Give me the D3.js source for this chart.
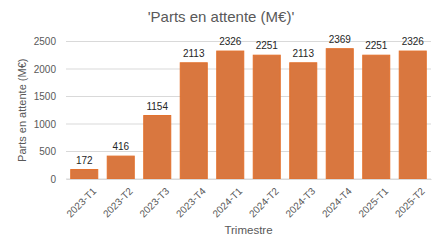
<!DOCTYPE html>
<html>
<head>
<meta charset="utf-8">
<script src="https://cdn.jsdelivr.net/npm/d3@7"></script>
<style>
  body { margin: 0; background: #fff; }
  text { font-family: "Liberation Sans", "DejaVu Sans", sans-serif; }
</style>
</head>
<body>
<div id="chart"></div>
<script>
var trimestres = ["2023-T1", "2023-T2", "2023-T3", "2023-T4", "2024-T1", "2024-T2", "2024-T3", "2024-T4", "2025-T1", "2025-T2"];
var valeurs = [172, 416, 1154, 2113, 2326, 2251, 2113, 2369, 2251, 2326];
var yTicks = [0, 500, 1000, 1500, 2000, 2500];

var width = 442, height = 248;
var margin = {top: 41.5, right: 11, bottom: 69, left: 66};

var svg = d3.select("#chart")
            .append("svg")
            .attr("width", width)
            .attr("height", height);

var x = d3.scaleBand()
          .domain(trimestres)
          .range([margin.left, width - margin.right])
          .paddingInner(0.26)
          .paddingOuter(0.13);

var y = d3.scaleLinear()
          .domain([0, 2500])
          .range([height - margin.bottom, margin.top]);

// grille
svg.append("g")
    .selectAll("line")
    .data(yTicks)
    .enter()
    .append("line")
    .attr("x1", margin.left)
    .attr("x2", width - margin.right)
    .attr("y1", (d) => y(d))
    .attr("y2", (d) => y(d))
    .attr("stroke", "#d9d9d9")
    .attr("stroke-width", 1);

// axe Y
var yaxis = d3.axisLeft(y).tickValues(yTicks).tickFormat(d3.format("d")).tickSize(0).tickPadding(10);
var gy = svg.append("g")
            .attr("transform", "translate(" + margin.left + ",0)")
            .call(yaxis);
gy.select(".domain").remove();
gy.selectAll("text").attr("fill", "#595959").attr("font-size", 10);

// barres
svg.append("g")
    .selectAll("rect")
    .data(valeurs)
    .enter()
    .append("rect")
    .attr("x", (d, i) => x(trimestres[i]))
    .attr("y", (d) => y(d))
    .attr("width", x.bandwidth())
    .attr("height", (d) => y(0) - y(d))
    .attr("fill", "#d9773f")
    .attr("stroke", "#e2702c")
    .attr("stroke-width", 1);

// étiquettes de valeurs
svg.append("g")
    .selectAll("text")
    .data(valeurs)
    .enter()
    .append("text")
    .attr("x", (d, i) => x(trimestres[i]) + x.bandwidth() / 2)
    .attr("y", (d) => y(d) - 6)
    .attr("text-anchor", "middle")
    .attr("font-size", 10)
    .attr("fill", "#262626")
    .text((d) => d);

// axe X
var xaxis = d3.axisBottom(x).tickSize(0).tickPadding(6);
var gx = svg.append("g")
            .attr("transform", "translate(0," + y(0) + ")")
            .call(xaxis);
gx.select(".domain").attr("stroke", "#d9d9d9");
gx.selectAll("text")
    .attr("fill", "#595959")
    .attr("font-size", 10)
    .attr("text-anchor", "end")
    .attr("dy", "0.35em")
    .attr("transform", "translate(6,6) rotate(-45)");

// titre
svg.append("text")
    .attr("x", width / 2)
    .attr("y", 22)
    .attr("text-anchor", "middle")
    .attr("font-size", 15)
    .attr("fill", "#595959")
    .text("'Parts en attente (M€)'");

svg.append("text")
    .attr("x", (margin.left + width - margin.right) / 2)
    .attr("y", 234)
    .attr("text-anchor", "middle")
    .attr("font-size", 11.5)
    .attr("fill", "#595959")
    .text("Trimestre");

svg.append("text")
    .attr("transform", "translate(26," + (y(1250)) + ") rotate(-90)")
    .attr("text-anchor", "middle")
    .attr("font-size", 11)
    .attr("fill", "#595959")
    .text("Parts en attente (M€)");
</script>
</body>
</html>
